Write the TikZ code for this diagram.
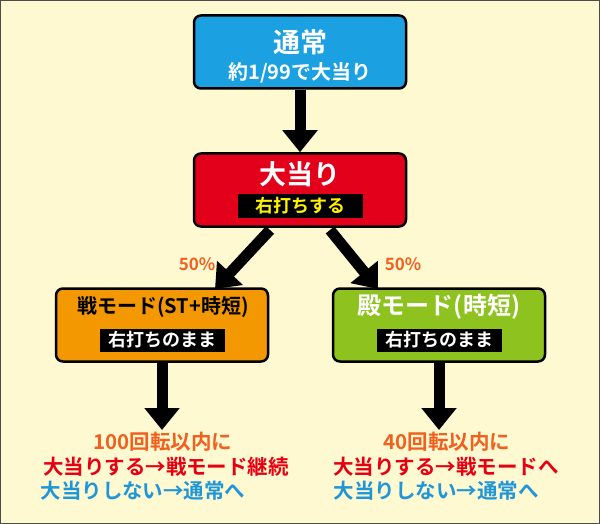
\documentclass[tikz,border=0pt]{standalone}
\usepackage{fontspec}
\setmainfont{Noto Sans CJK JP}[BoldFont={Noto Sans CJK JP Bold}]
\usetikzlibrary{arrows.meta}
\definecolor{bg}{HTML}{FFF9D2}
\definecolor{cblue}{HTML}{1BA1E2}
\definecolor{cred}{HTML}{E3001B}
\definecolor{corange}{HTML}{F39800}
\definecolor{cgreen}{HTML}{8DC21F}
\definecolor{torange}{HTML}{F0601E}
\definecolor{tred}{HTML}{E60012}
\definecolor{tblue}{HTML}{1E96D8}
\definecolor{tyellow}{HTML}{FFF100}
\begin{document}
\begin{tikzpicture}[x=1pt,y=-1pt,font=\bfseries,
  box/.style={draw=black,line width=2.5pt,rounded corners=7pt,minimum width=212pt,minimum height=73pt},
  lab/.style={fill=black,inner sep=1pt,minimum height=23pt,font=\bfseries\fontsize{18}{18}\selectfont},
  arr/.style={line width=11pt,-{Triangle[length=22pt,width=34pt]}},
  note/.style={font=\bfseries\fontsize{20.5}{22}\selectfont}]
\fill[bg,draw=black!70,line width=1pt] (0.5,0.5) rectangle (599.5,523.5);
\node[box,fill=cblue] (a) at (300,52) {};
\node[text=white,font=\bfseries\fontsize{27}{27}\selectfont] (at) at (300,42) {通常};
\node[text=white,font=\bfseries\fontsize{20}{20}\selectfont] (as) at (300,73) {約1/99で大当り};
\node[box,fill=cred] (b) at (300,190) {};
\node[text=white,font=\bfseries\fontsize{27}{27}\selectfont] (bt) at (300,174) {大当り};
\node[lab,text=tyellow,minimum width=125pt] (bl) at (300,206) {右打ちする};
\node[box,fill=corange] (c) at (162,325) {};
\node[text=black,font=\bfseries\fontsize{20}{20}\selectfont] (ct) at (163,307) {戦モード(ST+時短)};
\node[lab,text=white,minimum width=125pt] (cl) at (162,340) {右打ちのまま};
\node[box,fill=cgreen] (d) at (439,325) {};
\node[text=white,font=\bfseries\fontsize{24}{24}\selectfont] (dt) at (439,307) {殿モード(時短)};
\node[lab,text=white,minimum width=125pt] (dl) at (439,340) {右打ちのまま};
\draw[arr] (a.south) -- (b.north);
\draw[arr] (270,230) -- (215,289);
\draw[arr] (330,230) -- (378,289);
\node[text=torange,font=\bfseries\fontsize{17}{17}\selectfont] (p1) at (197,264) {50\%};
\node[text=torange,font=\bfseries\fontsize{17}{17}\selectfont] (p2) at (403,264) {50\%};
\coordinate (ce) at (162,430);
\coordinate (de) at (439,430);
\draw[arr] (c.south) -- (ce);
\draw[arr] (d.south) -- (de);
\node[note,text=torange] (n1) at (163,442) {100回転以内に};
\node[note,text=tred] (n2) at (166,467) {大当りする→戦モード継続};
\node[note,text=tblue] (n3) at (143,491) {大当りしない→通常へ};
\node[note,text=torange] (m1) at (447,442) {40回転以内に};
\node[note,text=tred] (m2) at (446,467) {大当りする→戦モードへ};
\node[note,text=tblue] (m3) at (436,491) {大当りしない→通常へ};
\end{tikzpicture}
\end{document}
